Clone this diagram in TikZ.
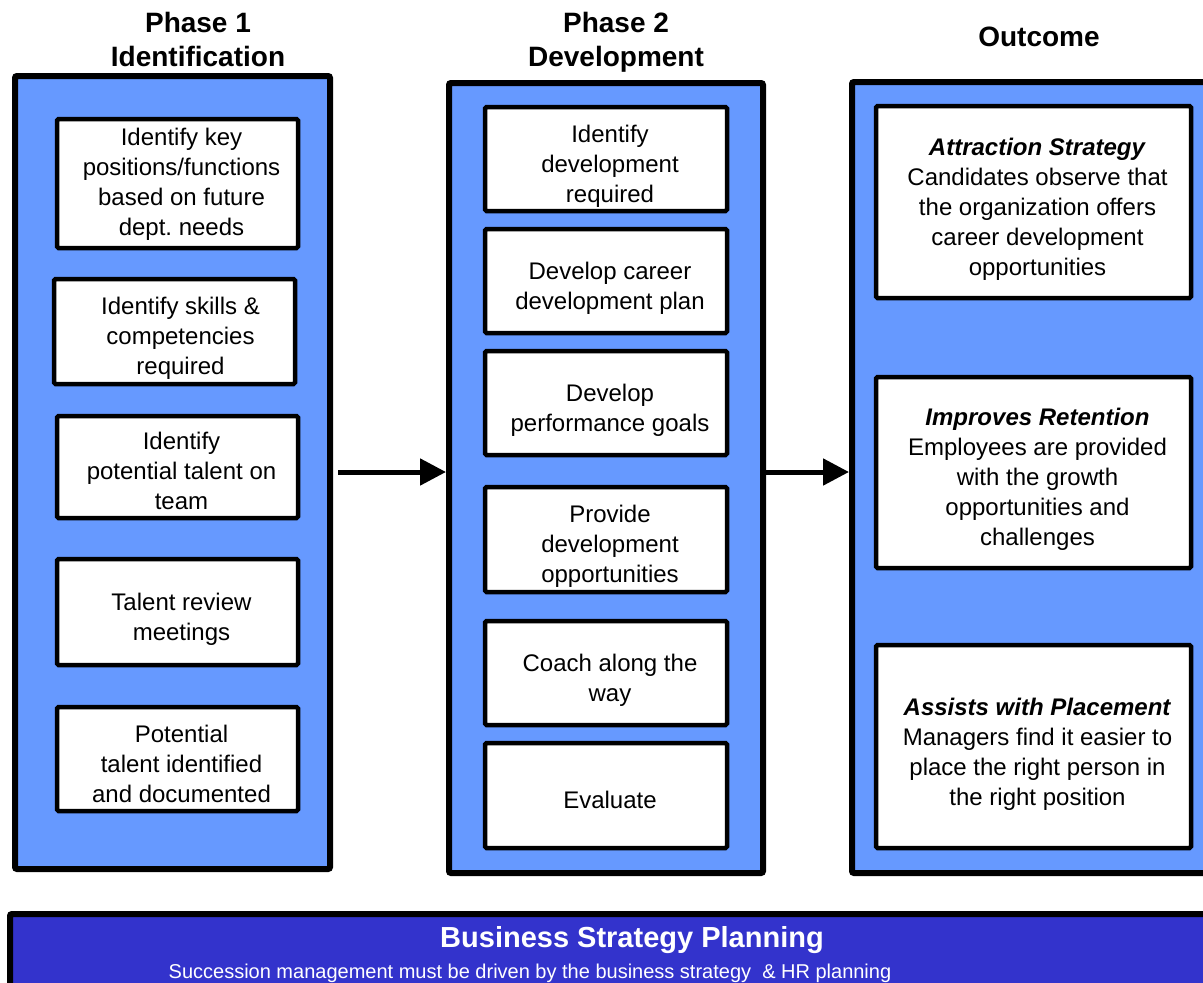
\documentclass[tikz,border=0pt]{standalone}
\usepackage{fontspec}
\setmainfont{Liberation Sans}
\usetikzlibrary{arrows.meta}
\definecolor{panelblue}{HTML}{6699FF}
\definecolor{barblue}{HTML}{3333CC}
\begin{document}
\begin{tikzpicture}[x=1pt,y=-1pt,
  panel/.style={draw=black, line width=6pt, fill=panelblue, rounded corners=2pt, inner sep=0pt},
  card/.style={draw=black, line width=4.5pt, fill=white, rounded corners=1.5pt, inner sep=0pt},
  ct/.style={align=center, inner sep=0pt, xshift=4pt, yshift=-7pt,
    font=\fontsize{24pt}{30pt}\selectfont},
  head/.style={align=center, font=\fontsize{28pt}{34pt}\selectfont\bfseries},
  flow/.style={line width=5pt, -{Triangle[length=26pt,width=26pt]}}]
\useasboundingbox[fill=white] (0,0) rectangle (1203,983);

% headings
\node[head] (h1) at (198,39) {Phase 1\\Identification};
\node[head, anchor=north] (h2) at (h1.north -| 616,0) {Phase 2\\Development};
\node[head] (h3) at (1039,37) {Outcome};

% panels
\node[panel, minimum width=315pt, minimum height=793pt] (p1) at (172.5,472.5) {};
\node[panel, minimum width=314pt, minimum height=790pt] (p2) at (606,478) {};
\node[panel, minimum width=358pt, minimum height=791pt] (p3) at (1031,477.5) {};

% phase 1 cards
\node[card, minimum width=241pt, minimum height=129pt, label={[ct, yshift=6pt]center:{Identify key\\positions/functions\\based on future\\dept.\ needs}}] (a1) at (177.5,183.5) {};
\node[card, minimum width=241pt, minimum height=105pt, label={[ct, xshift=2pt]center:{Identify skills \&\\competencies\\required}}] (a2) at (174.5,331.5) {};
\node[card, minimum width=241pt, minimum height=102pt, label={[ct, yshift=3pt]center:{Identify\\potential talent on\\team}}] (a3) at (177.5,467) {};
\node[card, minimum width=241pt, minimum height=106pt, label={[ct]center:{Talent review\\meetings}}] (a4) at (177.5,612) {};
\node[card, minimum width=241pt, minimum height=104pt, label={[ct, yshift=2pt]center:{Potential\\talent identified\\and documented}}] (a5) at (177.5,759) {};

% phase 2 cards
\node[card, minimum width=242pt, minimum height=104pt, label={[ct]center:{Identify\\development\\required}}] (b1) at (606,159) {};
\node[card, minimum width=242pt, minimum height=104pt, label={[ct]center:{Develop career\\development plan}}] (b2) at (606,281) {};
\node[card, minimum width=242pt, minimum height=104pt, label={[ct]center:{Develop\\performance goals}}] (b3) at (606,403) {};
\node[card, minimum width=242pt, minimum height=105pt, label={[ct]center:{Provide\\development\\opportunities}}] (b4) at (606,539.5) {};
\node[card, minimum width=242pt, minimum height=104pt, label={[ct]center:{Coach along the\\way}}] (b5) at (606,673) {};
\node[card, minimum width=242pt, minimum height=105pt, label={[ct, yshift=3pt]center:{Evaluate}}] (b6) at (606,795.5) {};

% outcome cards
\node[card, minimum width=315pt, minimum height=192pt, label={[ct]center:{\textbf{\textit{Attraction Strategy}}\\Candidates observe that\\the organization offers\\career development\\opportunities}}] (c1) at (1033.5,202) {};
\node[card, minimum width=315pt, minimum height=191pt, label={[ct]center:{\textbf{\textit{Improves Retention}}\\Employees are provided\\with the growth\\opportunities and\\challenges}}] (c2) at (1033.5,472.5) {};
\node[card, minimum width=315pt, minimum height=203pt, label={[ct, yshift=-1pt]center:{\textbf{\textit{Assists with Placement}}\\Managers find it easier to\\place the right person in\\the right position}}] (c3) at (1033.5,746.5) {};

% arrows
\coordinate (ay) at (0,472);
\draw[flow, shorten <=5pt] (p1.east |- ay) -- (p2.west |- ay);
\draw[flow] (p2.east |- ay) -- (p3.west |- ay);

% bottom bar
\node[panel, fill=barblue, minimum width=1205pt, minimum height=81pt] (bar) at (612.5,954.5) {};
\node[text=white, anchor=base, inner sep=0pt, font=\fontsize{29pt}{34pt}\selectfont\bfseries] (bt) at (632,947) {Business Strategy Planning};
\node[text=white, anchor=base, inner sep=0pt, font=\fontsize{20pt}{24pt}\selectfont] (bs) at (530,978) {Succession management must be driven by the business strategy~ \& HR planning};
\end{tikzpicture}
\end{document}
